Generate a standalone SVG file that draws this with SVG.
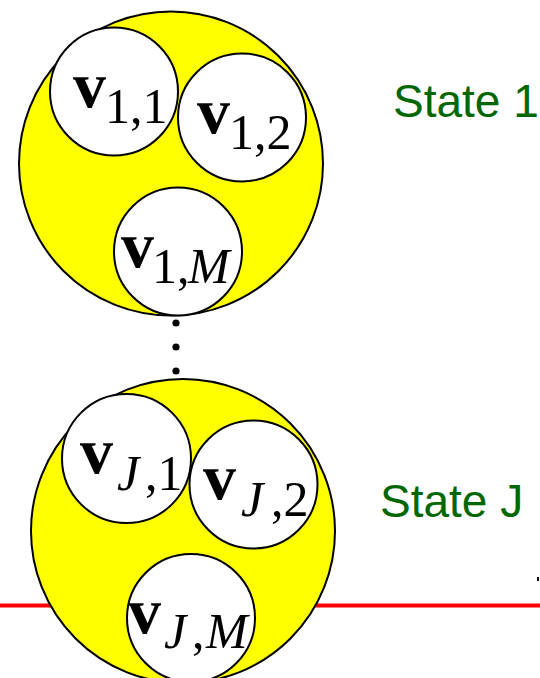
<svg xmlns="http://www.w3.org/2000/svg" width="540" height="678" viewBox="0 0 540 678">
  <style>
    .state { fill: #ffff00; stroke: #000; stroke-width: 2; }
    .vec { fill: #fff; stroke: #000; stroke-width: 2; }
    .eq { font-family: "Liberation Serif", "Times New Roman", serif; fill: #000; }
    .v { font-weight: bold; font-size: 66px; }
    .sub { font-size: 50px; }
    .it { font-style: italic; }
    .label { font-family: "Liberation Sans", Arial, sans-serif; font-size: 46px; fill: #006600; }
  </style>
  <rect width="540" height="678" fill="#fff"/>

  <!-- baseline rule behind the lower state, and the ellipsis between states -->
  <g id="connectors">
    <line x1="0" y1="605.5" x2="540" y2="605.5" stroke="#ff0000" stroke-width="4"/>
    <rect x="537" y="577" width="2" height="4" fill="#000"/>
    <circle cx="176" cy="323" r="3.6" fill="#000"/>
    <circle cx="176" cy="347" r="3.6" fill="#000"/>
    <circle cx="176" cy="371" r="3.6" fill="#000"/>
  </g>

  <!-- state 1 -->
  <g id="state1">
    <circle class="state" cx="171" cy="163.5" r="152"/>
  </g>
  <g id="v11">
    <circle class="vec" cx="114" cy="91.5" r="64"/>
    <text class="eq"><tspan class="v" x="73" y="107">v</tspan><tspan class="sub" x="105" y="123">1,1</tspan></text>
  </g>
  <g id="v12">
    <circle class="vec" cx="242" cy="117.5" r="64"/>
    <text class="eq"><tspan class="v" x="197" y="133">v</tspan><tspan class="sub" x="229" y="149">1,2</tspan></text>
  </g>
  <g id="v1M">
    <circle class="vec" cx="178" cy="251.5" r="64"/>
    <text class="eq"><tspan class="v" x="121" y="267">v</tspan><tspan class="sub" x="152" y="283">1,</tspan><tspan class="sub it" x="188" y="283">M</tspan></text>
  </g>
  <g id="label1">
    <text class="label" x="393" y="117">State 1</text>
  </g>

  <!-- state J -->
  <g id="stateJ">
    <circle class="state" cx="183" cy="531" r="152"/>
  </g>
  <g id="vJ1">
    <circle class="vec" cx="126.5" cy="458.5" r="64.5"/>
    <text class="eq"><tspan class="v" x="80" y="473">v</tspan><tspan class="sub it" x="117" y="490">J</tspan><tspan class="sub" x="145" y="490">,1</tspan></text>
  </g>
  <g id="vJ2">
    <circle class="vec" cx="253.5" cy="484.5" r="64"/>
    <text class="eq"><tspan class="v" x="203" y="499">v</tspan><tspan class="sub it" x="241" y="516">J</tspan><tspan class="sub" x="271" y="516">,2</tspan></text>
  </g>
  <g id="vJM">
    <circle class="vec" cx="191" cy="618" r="64"/>
    <text class="eq"><tspan class="v" x="128" y="633">v</tspan><tspan class="sub it" x="164" y="648">J</tspan><tspan class="sub" x="192" y="648">,</tspan><tspan class="sub it" x="206" y="648">M</tspan></text>
  </g>
  <g id="labelJ">
    <text class="label" x="380" y="517">State J</text>
  </g>
</svg>
